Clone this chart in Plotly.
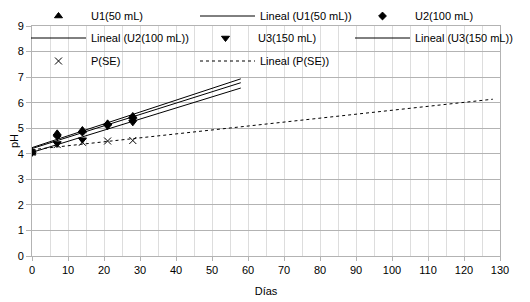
import numpy as np
import plotly.graph_objects as go

# ---- data ----
dias = [0, 7, 14, 21, 28]
u1 = [4.05, 4.80, 4.93, 5.19, 5.48]
u2 = [4.05, 4.70, 4.85, 5.15, 5.38]
u3 = [4.05, 4.40, 4.55, 5.08, 5.23]
pse = [4.05, 4.36, 4.45, 4.50, 4.52]

names = ["U1(50 mL)", "U2(100 mL)", "U3(150 mL)", "P(SE)"]
trend_end = [58, 58, 58, 128]   # forecast extent of each linear trend (días)

x_ticks = list(range(0, 131, 10))
y_ticks = list(range(0, 10))

FONT = "Liberation Sans, Arial, sans-serif"
FS = 11
OFF = 8            # page body margin
W, H = 530 - OFF, 302 - OFF

fig = go.Figure()

series = [u1, u2, u3, pse]
symbols = ["triangle-up", "diamond", "triangle-down", "x-thin-open"]
msize = [7, 6, 7, 7]
dashes = ["solid", "solid", "solid", "dot"]

# legend slots: (legend id, text-left px, text-center y px) in page coords
slots = {
    ("m", 0): ("legend", 91, 16),
    ("t", 0): ("legend2", 260, 16),
    ("m", 1): ("legend3", 415, 16),
    ("t", 1): ("legend4", 91, 38),
    ("m", 2): ("legend5", 258, 38),
    ("t", 2): ("legend6", 415, 38),
    ("m", 3): ("legend7", 91, 61),
    ("t", 3): ("legend8", 260, 61),
}

for i, (nm, ys) in enumerate(zip(names, series)):
    lg = slots[("m", i)][0]
    fig.add_trace(go.Scatter(
        x=dias, y=ys, mode="markers", name=nm, legend=lg,
        marker=dict(symbol=symbols[i], size=msize[i], color="black",
                    line=dict(color="black", width=1)),
    ))
    slope, icpt = np.polyfit(dias, ys, 1)
    xs = np.array([0, trend_end[i]])
    lg2 = slots[("t", i)][0]
    fig.add_trace(go.Scatter(
        x=xs, y=icpt + slope * xs, mode="lines", name=f"Lineal ({nm})", legend=lg2,
        line=dict(color="black", width=1, dash=dashes[i]),
    ))

layout_legends = {}
for key, (lg, tx, ty) in slots.items():
    layout_legends[lg] = dict(
        xref="container", yref="container",
        x=(tx - OFF - 65) / W, y=1 - (ty - OFF) / H, xanchor="left", yanchor="middle",
        orientation="h", itemwidth=55, bgcolor="rgba(0,0,0,0)", borderwidth=0,
        font=dict(family=FONT, size=FS, color="black"), itemclick=False,
    )

fig.update_layout(
    width=W, height=H,
    margin=dict(l=24, r=30, t=17.5, b=45.5, autoexpand=False),
    paper_bgcolor="white", plot_bgcolor="white",
    font=dict(family=FONT, size=FS, color="black"),
    showlegend=True,
    **layout_legends,
)

fig.update_xaxes(
    range=[0, 130], tickvals=x_ticks, ticktext=[str(v) for v in x_ticks],
    showgrid=False, showline=True, linecolor="#b3b3b3", linewidth=1, mirror=True,
    ticks="outside", ticklen=4, tickcolor="#b3b3b3",
    minor=dict(dtick=5, tick0=0, showgrid=True, gridcolor="#dddddd", gridwidth=1, ticks=""),
    zeroline=False,
    title=dict(text="Días", font=dict(family=FONT, size=FS), standoff=12),
    tickfont=dict(family=FONT, size=FS),
)
fig.update_yaxes(
    range=[0, 9], tickvals=y_ticks,
    showgrid=True, gridcolor="#b3b3b3", gridwidth=1,
    showline=True, linecolor="#b3b3b3", linewidth=1, mirror=True,
    ticks="outside", ticklen=5, tickcolor="#b3b3b3",
    zeroline=False,
    title=dict(text="pH", font=dict(family=FONT, size=FS), standoff=14),
    tickfont=dict(family=FONT, size=FS),
)

fig.write_html("out.html")
